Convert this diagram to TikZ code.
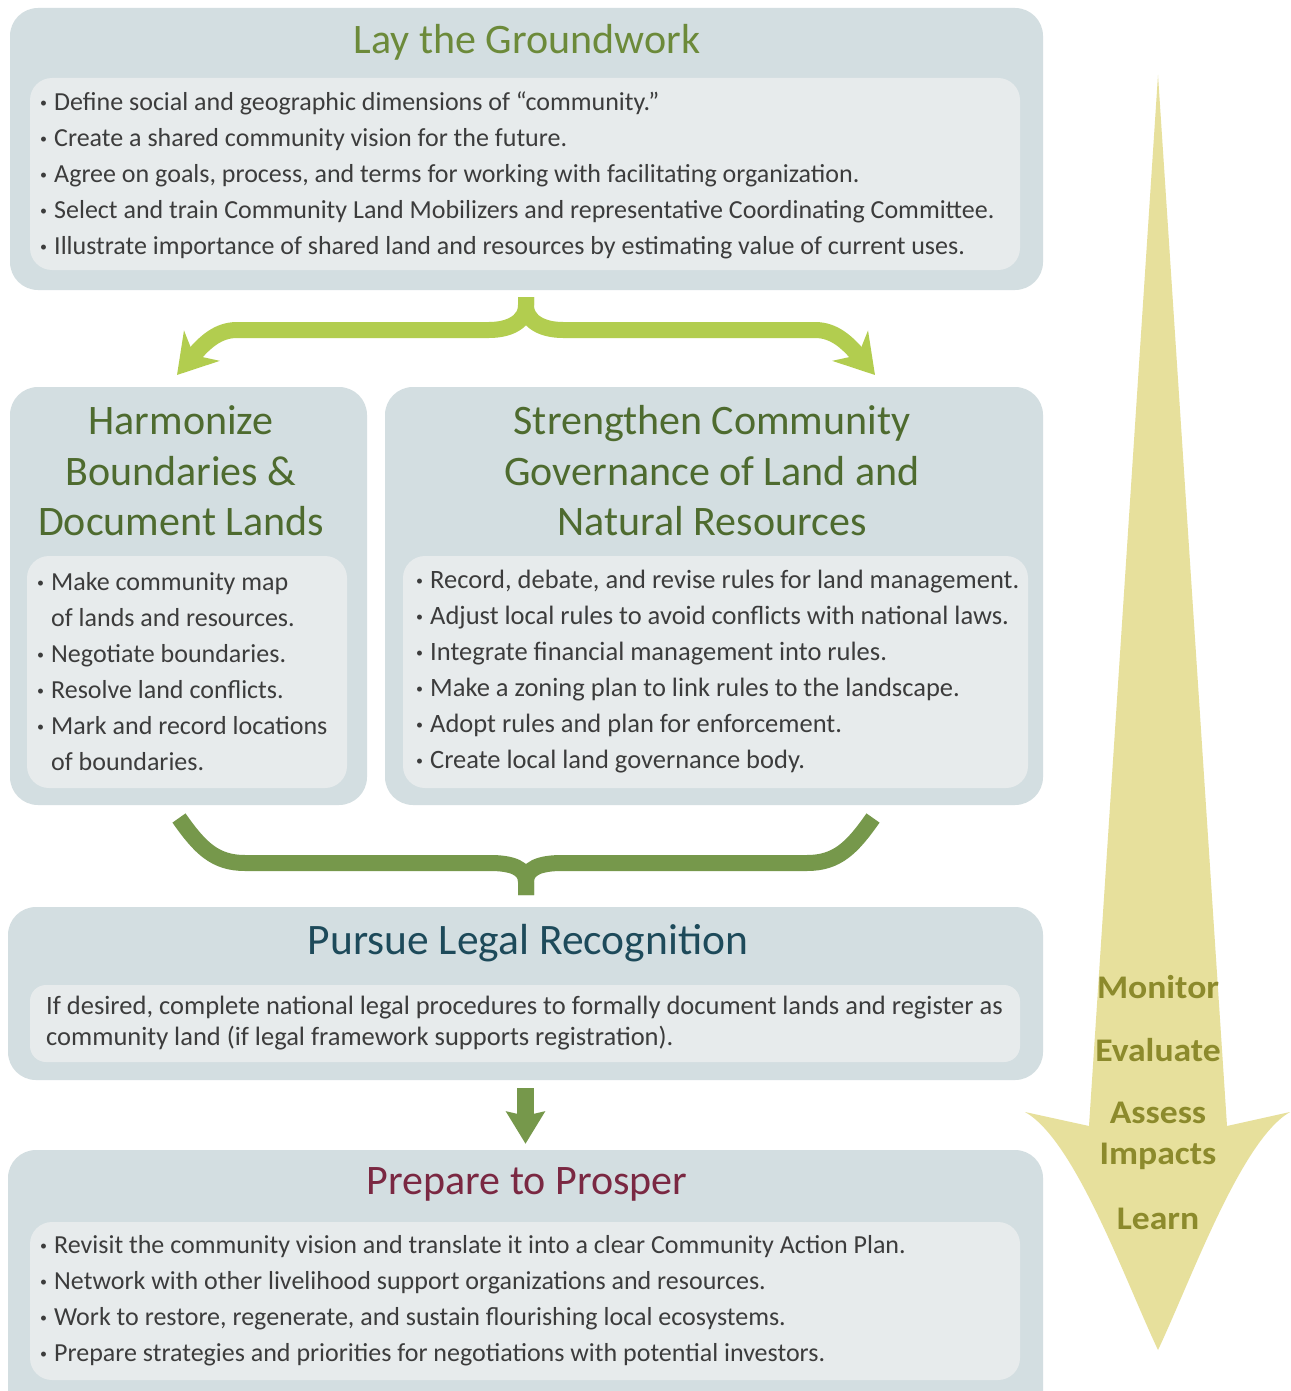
\documentclass[tikz,border=0pt]{standalone}
\usepackage{fontspec}
\setmainfont{Carlito}
\newfontfamily\widebold[FakeStretch=1.08]{Carlito}
\usetikzlibrary{arrows.meta}
\definecolor{outerc}{HTML}{D3DEE1}
\definecolor{innerc}{HTML}{E7EBEC}
\definecolor{txt}{HTML}{3C3C3C}
\definecolor{laygreen}{HTML}{6C8A3A}
\definecolor{dkgreen}{HTML}{4E6B2F}
\definecolor{tealc}{HTML}{1D4A5A}
\definecolor{maroonc}{HTML}{7A2842}
\definecolor{ltgreen}{HTML}{B2CD4F}
\definecolor{midgreen}{HTML}{76984B}
\definecolor{sand}{HTML}{E7E09C}
\definecolor{olivec}{HTML}{8C8A2C}
\newcommand{\bl}{\makebox[14pt][l]{\raisebox{3pt}{\fontsize{14}{14}\selectfont •}}}
\newcommand{\ind}{\hspace*{14pt}}
\tikzset{
  outerbox/.style={fill=outerc, rounded corners=28pt, inner sep=0pt},
  innerbox/.style={fill=innerc, rounded corners=22pt, inner sep=0pt},
  title/.style={font=\fontsize{42}{50.5}\selectfont, inner sep=0pt, align=center},
  listtext/.style={font=\fontsize{26}{36}\selectfont, text=txt, inner sep=0pt, align=left, anchor=west},
  brace1/.style={draw=ltgreen, line width=16pt},
  brace2/.style={draw=midgreen, line width=16pt},
  bigword/.style={font=\widebold\fontsize{33}{33}\selectfont\bfseries, text=olivec, inner sep=0pt}
}
\begin{document}
\begin{tikzpicture}[x=1pt,y=-1pt]
\useasboundingbox (0,0) rectangle (1290,1391);
\clip (0,0) rectangle (1290,1391);
\fill[white] (0,0) rectangle (1290,1391);

% big arrow
\fill[sand] (1158,75) -- (1227,1126) -- (1290,1112)
  .. controls (1241,1140) and (1191,1280) .. (1158,1350)
  .. controls (1125,1280) and (1075,1140) .. (1025,1112)
  -- (1089,1126) -- cycle;
\node[bigword] (mon) at (1158,987) {Monitor};
\node[bigword] (eva) at (1158,1050) {Evaluate};
\node[bigword] (ass) at (1158,1113) {Assess};
\node[bigword] (imp) at (1158,1156) {Impacts};
\node[bigword] (lea) at (1158,1219) {Learn};

% boxes
\node[outerbox, minimum width=1033pt, minimum height=282pt] (lay) at (526.5,149) {};
\node[innerbox, minimum width=990pt, minimum height=192pt] (layin) at (525,174) {};
\node[outerbox, minimum width=357pt, minimum height=418pt] (harm) at (188.5,596) {};
\node[innerbox, minimum width=320pt, minimum height=232pt] (harmin) at (187,672) {};
\node[outerbox, minimum width=658pt, minimum height=418pt] (str) at (714,596) {};
\node[innerbox, minimum width=625pt, minimum height=232pt] (strin) at (715.5,672) {};
\node[outerbox, minimum width=1035pt, minimum height=173pt] (pur) at (525.5,993.5) {};
\node[innerbox, rounded corners=16pt, minimum width=990pt, minimum height=77pt] (purin) at (525,1023.5) {};
\node[outerbox, minimum width=1035pt, minimum height=270pt] (pro) at (525.5,1285) {};
\node[innerbox, minimum width=990pt, minimum height=158pt] (proin) at (525,1301) {};

% titles
\node[title, text=laygreen] (layt) at (527,42) {Lay the Groundwork};
\node[title, text=dkgreen] (harmt) at (181,471) {Harmonize\\Boundaries \&\\Document Lands};
\node[title, text=dkgreen] (strt) at (712,471) {Strengthen Community\\Governance of Land and\\Natural Resources};
\node[title, text=tealc, font=\fontsize{43.5}{50}\selectfont] (purt) at (528,943) {Pursue Legal Recognition};
\node[title, text=maroonc] (prot) at (527,1184) {Prepare to Prosper};

% lists
\node[listtext] (layl) at (40,175) {\bl Define social and geographic dimensions of “community.”\\
\bl Create a shared community vision for the future.\\
\bl Agree on goals, process, and terms for working with facilitating organization.\\
\bl Select and train Community Land Mobilizers and representative Coordinating Committee.\\
\bl Illustrate importance of shared land and resources by estimating value of current uses.};
\node[listtext] (harml) at (37,672) {\bl Make community map\\
\ind of lands and resources.\\
\bl Negotiate boundaries.\\
\bl Resolve land conflicts.\\
\bl Mark and record locations\\
\ind of boundaries.};
\node[listtext, font=\fontsize{26.5}{36}\selectfont] (strl) at (416,672) {\bl Record, debate, and revise rules for land management.\\
\bl Adjust local rules to avoid conflicts with national laws.\\
\bl Integrate financial management into rules.\\
\bl Make a zoning plan to link rules to the landscape.\\
\bl Adopt rules and plan for enforcement.\\
\bl Create local land governance body.};
\node[listtext, font=\fontsize{26.5}{31}\selectfont] (purl) at (46,1023) {If desired, complete national legal procedures to formally document lands and register as\\
community land (if legal framework supports registration).};
\node[listtext] (prol) at (40,1301) {\bl Revisit the community vision and translate it into a clear Community Action Plan.\\
\bl Network with other livelihood support organizations and resources.\\
\bl Work to restore, regenerate, and sustain flourishing local ecosystems.\\
\bl Prepare strategies and priorities for negotiations with potential investors.};

% top brace
\coordinate (topc) at (526,297);
\coordinate (harmtip) at (177,375);
\coordinate (strtip) at (875,375);
\draw[brace1, -{Stealth[length=38pt,width=46pt,inset=12pt]}] (topc) -- ++(0,8)
  .. controls +(0,17) and +(20,0) .. (489,330) -- (237,330)
  .. controls (218,330) and (205,342) .. (harmtip);
\draw[brace1, -{Stealth[length=38pt,width=46pt,inset=12pt]}] (topc) -- ++(0,8)
  .. controls +(0,17) and +(-20,0) .. (563,330) -- (815,330)
  .. controls (834,330) and (847,342) .. (strtip);

% bottom brace
\coordinate (harmbot) at (179,818);
\coordinate (strbot) at (873,818);
\coordinate (purtop) at (526,895);
\draw[brace2] (harmbot) .. controls (200,848) and (215,863) .. (245,863)
  -- (490,863) .. controls (512,863) and (526,868) .. (526,882) -- (purtop);
\draw[brace2] (strbot) .. controls (852,848) and (837,863) .. (807,863)
  -- (562,863) .. controls (540,863) and (526,868) .. (526,882) -- (purtop);

% small arrow
\draw[draw=midgreen, line width=17pt, -{Stealth[length=32pt,width=38pt,inset=4pt]}]
  ([yshift=-8pt]pur.south) -- ([yshift=6pt]pro.north);
\end{tikzpicture}
\end{document}
